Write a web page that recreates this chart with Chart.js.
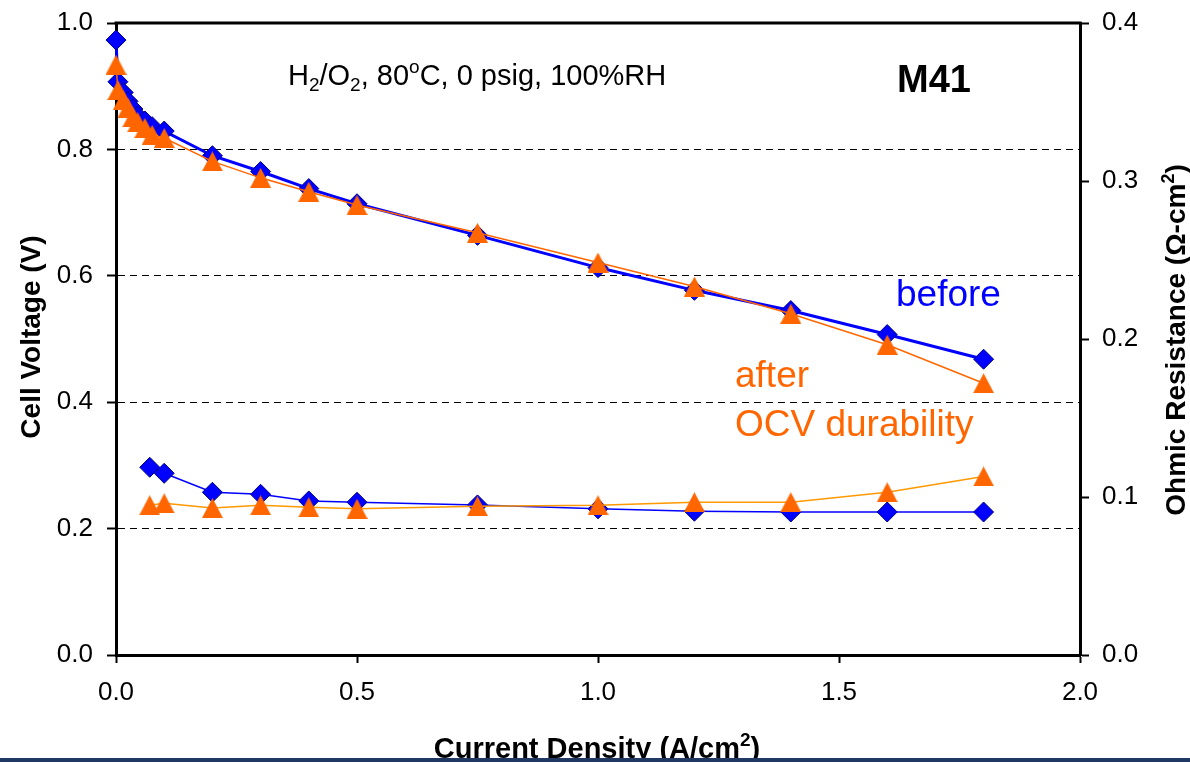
<!DOCTYPE html>
<html>
<head>
<meta charset="utf-8">
<script src="https://cdn.jsdelivr.net/npm/chart.js@4.4.0/dist/chart.umd.min.js"></script>
<style>
html, body { margin: 0; padding: 0; background: #fff; }
#wrap { width: 1190px; height: 762px; position: relative; }
</style>
</head>
<body>
<div id="wrap"><canvas id="chart" width="1190" height="762"></canvas></div>
<script>
// current density (A/cm2) for the polarization curves
const curPol = [0, 0.004, 0.015, 0.025, 0.035, 0.045, 0.06, 0.075, 0.1, 0.2, 0.3, 0.4, 0.5, 0.75, 1.0, 1.2, 1.4, 1.6, 1.8];
// cell voltage (V)
const vBefore = [0.973, 0.907, 0.890, 0.876, 0.864, 0.853, 0.845, 0.836, 0.829, 0.790, 0.765, 0.738, 0.714, 0.664, 0.613, 0.577, 0.545, 0.507, 0.468];
const vAfter = [0.934, 0.894, 0.878, 0.866, 0.851, 0.843, 0.834, 0.823, 0.818, 0.781, 0.755, 0.733, 0.712, 0.668, 0.621, 0.583, 0.540, 0.491, 0.430];

// current density (A/cm2) for the ohmic resistance
const curHfr = [0.07, 0.1, 0.2, 0.3, 0.4, 0.5, 0.75, 1.0, 1.2, 1.4, 1.6, 1.8];
// ohmic resistance (ohm-cm2)
const hfrBefore = [0.1188, 0.1150, 0.1030, 0.1017, 0.0975, 0.0967, 0.0950, 0.0925, 0.0910, 0.0905, 0.0905, 0.0905];
const hfrAfter = [0.0948, 0.0960, 0.0930, 0.0948, 0.0935, 0.0925, 0.0942, 0.0948, 0.0967, 0.0967, 0.1030, 0.1130];

const xTicks = [0, 0.5, 1.0, 1.5, 2.0];
const yTicks = [0, 0.2, 0.4, 0.6, 0.8, 1.0];
const y1Ticks = [0, 0.1, 0.2, 0.3, 0.4];

const BLUE = '#0000FF';
const NAVY = '#000080';
const ORANGE = '#FF6600';
const ORANGE2 = '#FF9900';
const FONT = '"Liberation Sans", Arial, sans-serif';

// excel style triangle marker
function triangleMarker(w, h, color) {
  const c = document.createElement('canvas');
  c.width = w; c.height = h;
  const g = c.getContext('2d');
  g.fillStyle = color;
  g.beginPath();
  g.moveTo(w / 2, 0);
  g.lineTo(w, h);
  g.lineTo(0, h);
  g.closePath();
  g.fill();
  return c;
}
const tri = triangleMarker(21, 20, ORANGE);

function pts(xs, ys) {
  return xs.map((x, i) => ({ x: x, y: ys[i] }));
}

// text with sub/superscripts, parts = [[text, mode], ...]
function richText(ctx, parts, x, y, size, bold, align) {
  const fontFor = m => (bold ? 'bold ' : '') + (m ? Math.round(size * 0.65) : size) + 'px ' + FONT;
  let total = 0;
  parts.forEach(p => { ctx.font = fontFor(p[1]); total += ctx.measureText(p[0]).width; });
  let cx = align === 'center' ? x - total / 2 : x;
  ctx.textAlign = 'left';
  ctx.textBaseline = 'alphabetic';
  parts.forEach(p => {
    ctx.font = fontFor(p[1]);
    const dy = p[1] === 'sub' ? size * 0.22 : (p[1] === 'sup' ? -size * 0.4 : 0);
    ctx.fillText(p[0], cx, y + dy);
    cx += ctx.measureText(p[0]).width;
  });
}

const frame = {
  id: 'frame',
  beforeDatasetsDraw(chart) {
    const ctx = chart.ctx, a = chart.chartArea;
    ctx.save();
    ctx.strokeStyle = '#000';
    ctx.lineWidth = 3;
    ctx.beginPath();
    ctx.moveTo(a.left - 1.5, a.top);
    ctx.lineTo(a.right + 1.5, a.top);
    ctx.stroke();
    ctx.restore();
  },
  afterDraw(chart) {
    const ctx = chart.ctx;
    ctx.save();
    ctx.fillStyle = '#000';
    richText(ctx, [['H', ''], ['2', 'sub'], ['/O', ''], ['2', 'sub'], [', 80', ''], ['o', 'sup'], ['C, 0 psig, 100%RH', '']], 288, 85, 29, false, 'left');
    richText(ctx, [['M41', '']], 897, 92, 38, true, 'left');

    ctx.fillStyle = BLUE;
    richText(ctx, [['before', '']], 896, 306, 37, false, 'left');
    ctx.fillStyle = ORANGE;
    richText(ctx, [['after', '']], 735, 387, 37, false, 'left');
    richText(ctx, [['OCV durability', '']], 735, 436, 37, false, 'left');

    // axis titles
    ctx.fillStyle = '#000';
    richText(ctx, [['Current Density (A/cm', ''], ['2', 'sup'], [')', '']], 597, 758, 29, true, 'center');

    ctx.save();
    ctx.translate(40, 337);
    ctx.rotate(-Math.PI / 2);
    richText(ctx, [['Cell Voltage (V)', '']], 0, 0, 28, true, 'center');
    ctx.restore();

    ctx.save();
    ctx.translate(1185, 340);
    ctx.rotate(-Math.PI / 2);
    richText(ctx, [['Ohmic Resistance (\u03A9-cm', ''], ['2', 'sup'], [')', '']], 0, 0, 28, true, 'center');
    ctx.restore();

    // bottom rule
    ctx.fillStyle = '#1F3864';
    ctx.fillRect(0, 758, 1190, 4);
    ctx.restore();
  }
};

new Chart(document.getElementById('chart'), {
  type: 'scatter',
  data: {
    datasets: [
      {
        label: 'after',
        data: pts(curPol, vAfter),
        yAxisID: 'y',
        showLine: true,
        borderColor: ORANGE,
        borderWidth: 1.5,
        pointStyle: tri,
        backgroundColor: ORANGE,
        clip: false
      },
      {
        label: 'after HFR',
        data: pts(curHfr, hfrAfter),
        yAxisID: 'y1',
        showLine: true,
        borderColor: ORANGE2,
        borderWidth: 1.5,
        pointStyle: tri,
        backgroundColor: ORANGE,
        clip: false
      },
      {
        label: 'before',
        data: pts(curPol, vBefore),
        yAxisID: 'y',
        showLine: true,
        borderColor: BLUE,
        borderWidth: 3,
        pointStyle: 'rectRot',
        pointRadius: 10,
        pointBackgroundColor: BLUE,
        pointBorderColor: NAVY,
        pointBorderWidth: 1,
        clip: false
      },
      {
        label: 'before HFR',
        data: pts(curHfr, hfrBefore),
        yAxisID: 'y1',
        showLine: true,
        borderColor: BLUE,
        borderWidth: 1.5,
        pointStyle: 'rectRot',
        pointRadius: 10,
        pointBackgroundColor: BLUE,
        pointBorderColor: NAVY,
        pointBorderWidth: 1,
        clip: false
      }
    ]
  },
  options: {
    responsive: false,
    animation: false,
    devicePixelRatio: 1,
    layout: { padding: { top: 23, left: 0, right: 0, bottom: 0 } },
    plugins: {
      legend: { display: false },
      tooltip: { enabled: false }
    },
    elements: { line: { tension: 0 } },
    scales: {
      x: {
        type: 'linear',
        min: 0,
        max: 2,
        afterFit: s => { s.height = 107; s.paddingLeft = 0; s.paddingRight = 0; },
        afterBuildTicks: s => { s.ticks = xTicks.map(v => ({ value: v })); },
        ticks: { color: '#000', font: { family: FONT, size: 26 }, padding: 14, maxRotation: 0, callback: v => v.toFixed(1) },
        grid: { drawOnChartArea: false, tickLength: 8, tickWidth: 2, tickColor: '#000' },
        border: { color: '#000', width: 3 }
      },
      y: {
        position: 'left',
        min: 0,
        max: 1,
        afterFit: s => { s.width = 116; s.paddingTop = 0; s.paddingBottom = 0; },
        afterBuildTicks: s => { s.ticks = yTicks.map(v => ({ value: v })); },
        ticks: { color: '#000', font: { family: FONT, size: 26 }, padding: 14, callback: v => v.toFixed(1) },
        grid: {
          color: ctx => (ctx.tick && (ctx.tick.value === 0 || ctx.tick.value === 1)) ? 'rgba(0,0,0,0)' : '#000',
          lineWidth: 1,
          tickLength: 9,
          tickWidth: 2,
          tickColor: '#000'
        },
        border: { color: '#000', width: 3, dash: [7, 5] }
      },
      y1: {
        position: 'right',
        min: 0,
        max: 0.4,
        afterFit: s => { s.width = 110; s.paddingTop = 0; s.paddingBottom = 0; },
        afterBuildTicks: s => { s.ticks = y1Ticks.map(v => ({ value: v })); },
        ticks: { color: '#000', font: { family: FONT, size: 26 }, padding: 13, callback: v => v.toFixed(1) },
        grid: { drawOnChartArea: false, tickLength: 9, tickWidth: 2, tickColor: '#000' },
        border: { color: '#000', width: 3 }
      }
    }
  },
  plugins: [frame]
});
</script>
</body>
</html>
